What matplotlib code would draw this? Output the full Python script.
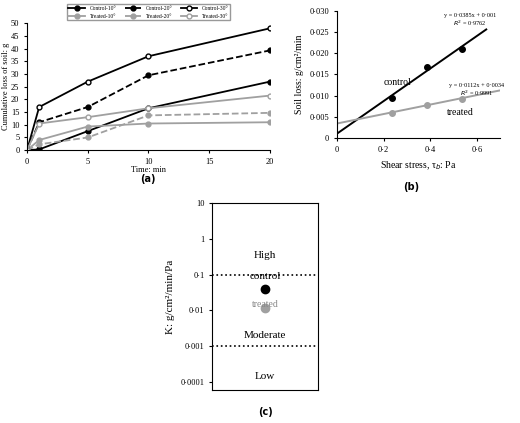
import matplotlib
matplotlib.use("Agg")
import matplotlib.pyplot as plt
from matplotlib.ticker import FixedLocator, NullLocator
import numpy as np

plt.rcParams["font.family"] = ["Liberation Serif", "DejaVu Serif"]

times = [0, 1, 5, 10, 20]
control_10 = [0, 0.3, 7.5, 16.5, 27]
control_20 = [0, 11, 17, 29.5, 39.3]
control_30 = [0, 17, 27, 37, 48]
treated_10 = [0, 4, 9.3, 10.5, 11]
treated_20 = [0, 2.3, 5, 13.7, 14.7]
treated_30 = [0, 10.5, 13, 16.5, 21.5]

shear = [0.235, 0.385, 0.535]
loss_control = [0.0094, 0.0167, 0.021]
loss_treated = [0.006, 0.0077, 0.0093]
fit_control = (0.0385, 0.001)
fit_treated = (0.0112, 0.0034)

k_control = 0.04
k_treated = 0.012

GRAY = "#a0a0a0"

fig = plt.figure(figsize=(5.2, 4.23), dpi=100)

# (a)
ax1 = fig.add_axes([0.052, 0.645, 0.467, 0.30])
series = [
    ("Control-10°", control_10, "black", "-", "black"),
    ("Treated-10°", treated_10, GRAY, "-", GRAY),
    ("Control-20°", control_20, "black", "--", "black"),
    ("Treated-20°", treated_20, GRAY, "--", GRAY),
    ("Control-30°", control_30, "black", "-", "white"),
    ("Treated-30°", treated_30, GRAY, "-", "white"),
]
for label, ys, c, ls, fc in series:
    ax1.plot(times, ys, color=c, ls=ls, lw=1.3, marker="o", ms=3.5,
             mfc=fc, mec=c, label=label)
ax1.set_xlim(0, 20)
ax1.set_ylim(0, 50)
ax1.set_xticks([0, 5, 10, 15, 20])
ax1.set_yticks(range(0, 51, 5))
ax1.tick_params(labelsize=6, length=2)
ax1.set_xlabel("Time: min", fontsize=6, labelpad=0)
ax1.set_ylabel("Cumulative loss of soil: g", fontsize=6, labelpad=1)
for s in ["top", "right"]:
    ax1.spines[s].set_visible(False)
ax1.legend(ncol=3, fontsize=4, loc="lower center", bbox_to_anchor=(0.5, 1.0),
           frameon=True, fancybox=False, edgecolor="gray", handlelength=3,
           borderpad=0.3, columnspacing=1.5)
fig.text(0.285, 0.57, "(a)", fontsize=7, fontweight="bold",
         family="DejaVu Sans", ha="center")

# (b)
ax2 = fig.add_axes([0.648, 0.674, 0.314, 0.30])
xc = np.array([0, 0.64])
xt = np.array([0, 0.7])
ax2.plot(xc, fit_control[0] * xc + fit_control[1], color="black", lw=1.4)
ax2.plot(xt, fit_treated[0] * xt + fit_treated[1], color=GRAY, lw=1.4)
ax2.plot(shear, loss_control, "o", color="black", ms=4)
ax2.plot(shear, loss_treated, "o", color=GRAY, ms=4)
ax2.set_xlim(0, 0.7)
ax2.set_ylim(0, 0.030)
ax2.set_xticks([0, 0.2, 0.4, 0.6])
ax2.set_xticklabels(["0", "0·2", "0·4", "0·6"])
ax2.set_yticks([0, 0.005, 0.01, 0.015, 0.02, 0.025, 0.03])
ax2.set_yticklabels(["0", "0·005", "0·010", "0·015", "0·020", "0·025", "0·030"])
ax2.tick_params(labelsize=6, length=2)
ax2.set_xlabel("Shear stress, τ$_b$: Pa", fontsize=7)
ax2.set_ylabel("Soil loss: g/cm²/min", fontsize=7)
for s in ["top", "right"]:
    ax2.spines[s].set_visible(False)
ax2.text(0.2, 0.0125, "control", fontsize=7)
ax2.text(0.47, 0.0053, "treated", fontsize=7)
ax2.text(0.57, 0.026, "y = 0·0385x + 0·001\n$R^2$ = 0·9762", fontsize=4.5,
         ha="center", va="bottom", linespacing=1.1)
ax2.text(0.6, 0.0095, "y = 0·0112x + 0·0034\n$R^2$ = 0·9991", fontsize=4.5,
         ha="center", va="bottom", linespacing=1.1)
fig.text(0.79, 0.55, "(b)", fontsize=7, fontweight="bold",
         family="DejaVu Sans", ha="center")

# (c)
ax3 = fig.add_axes([0.408, 0.078, 0.204, 0.442])
ax3.set_yscale("log")
ax3.set_ylim(6e-5, 10)
ax3.set_xlim(0, 1)
ax3.axhline(0.1, color="black", ls=":", lw=1.2)
ax3.axhline(0.001, color="black", ls=":", lw=1.2)
ax3.plot([0.5], [k_control], "o", color="black", ms=6)
ax3.plot([0.5], [k_treated], "o", color=GRAY, ms=6)
ax3.text(0.5, 0.065, "control", ha="center", va="bottom", fontsize=8)
ax3.text(0.5, 0.02, "treated", ha="center", va="top", fontsize=7, color="#888888")
ax3.text(0.5, 0.3, "High", ha="center", fontsize=8)
ax3.text(0.5, 0.0017, "Moderate", ha="center", fontsize=8)
ax3.text(0.5, 0.00012, "Low", ha="center", fontsize=8)
ax3.yaxis.set_major_locator(FixedLocator([1e-4, 1e-3, 1e-2, 1e-1, 1, 10]))
ax3.yaxis.set_minor_locator(NullLocator())
ax3.set_yticklabels(["0·0001", "0·001", "0·01", "0·1", "1", "10"])
ax3.set_xticks([])
ax3.tick_params(labelsize=6, length=2)
ax3.set_ylabel("K: g/cm²/min/Pa", fontsize=8)
fig.text(0.51, 0.02, "(c)", fontsize=7, fontweight="bold",
         family="DejaVu Sans", ha="center")

fig.savefig("out.png", dpi=100)
